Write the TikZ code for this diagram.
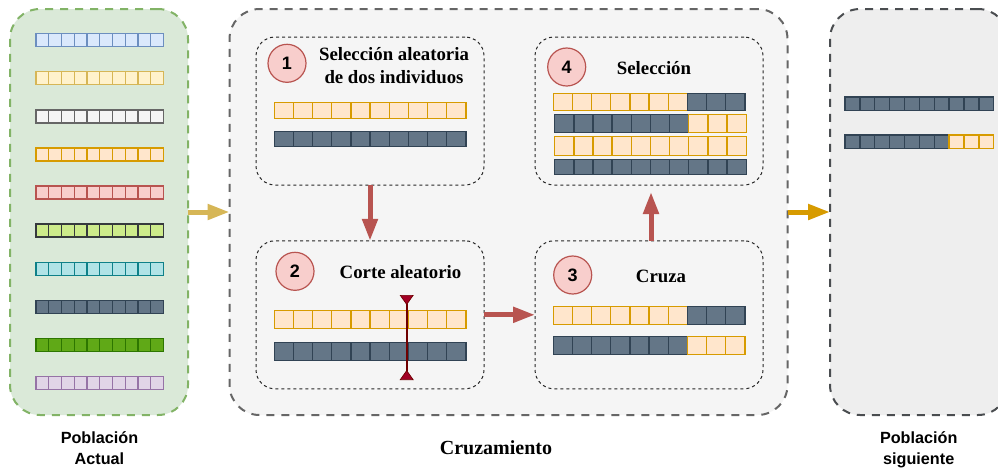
\documentclass[tikz,border=0pt]{standalone}
\usepackage{fontspec}
\setmainfont{Liberation Serif}
\setsansfont{Liberation Sans}
\usetikzlibrary{arrows.meta,calc}
\definecolor{bluef}{HTML}{DAE8FC}\definecolor{blued}{HTML}{6C8EBF}
\definecolor{yelf}{HTML}{FFF2CC}\definecolor{yeld}{HTML}{D6B656}
\definecolor{grayf}{HTML}{F5F5F5}\definecolor{grayd}{HTML}{666666}
\definecolor{orf}{HTML}{FFE6CC}\definecolor{ord}{HTML}{D79B00}
\definecolor{redf}{HTML}{F8CECC}\definecolor{redd}{HTML}{B85450}
\definecolor{limef}{HTML}{CDEB8B}\definecolor{darkd}{HTML}{36393D}
\definecolor{tealf}{HTML}{B0E3E6}\definecolor{teald}{HTML}{0E8088}
\definecolor{slatef}{HTML}{647687}\definecolor{slated}{HTML}{314354}
\definecolor{grnf}{HTML}{60A917}\definecolor{grnd}{HTML}{2D7600}
\definecolor{purf}{HTML}{E1D5E7}\definecolor{purd}{HTML}{9673A6}
\definecolor{panelg}{HTML}{DAE9D8}\definecolor{panelgd}{HTML}{82B366}
\definecolor{nextf}{HTML}{EEEEEE}
\definecolor{cutf}{HTML}{A20025}\definecolor{cutd}{HTML}{6F0000}
\tikzset{
  panelbox/.style={draw,line width=2pt,rounded corners=30pt,dash pattern=on 8pt off 7pt,inner sep=0pt,outer sep=0pt},
  subbox/.style={draw=black!85,fill=grayf,line width=1pt,rounded corners=19pt,dash pattern=on 3pt off 3pt,minimum width=228pt,minimum height=148pt,inner sep=0pt,outer sep=0pt},
  badge/.style={circle,draw=redd,fill=redf,line width=1.2pt,minimum size=38pt,inner sep=0pt,font=\sffamily\bfseries\fontsize{18}{18}\selectfont},
  steptitle/.style={align=center,inner sep=0pt,font=\rmfamily\bfseries\fontsize{18.8}{23}\selectfont},
  captionlabel/.style={align=center,inner sep=0pt,font=\sffamily\bfseries\fontsize{16.2}{21}\selectfont},
  flowarrow/.style={line width=5pt,draw=#1,-{Triangle[length=22pt,width=15pt,fill=#1]}},
  barblue/.style={draw=blued,fill=bluef,line width=1.4pt},
  baryellow/.style={draw=yeld,fill=yelf,line width=1.4pt},
  bargray/.style={draw=grayd,fill=grayf,line width=1.4pt},
  barorange/.style={draw=ord,fill=orf,line width=1.4pt},
  barred/.style={draw=redd,fill=redf,line width=1.4pt},
  barlime/.style={draw=darkd,fill=limef,line width=1.4pt},
  barteal/.style={draw=teald,fill=tealf,line width=1.4pt},
  barslate/.style={draw=slated,fill=slatef,line width=1.4pt},
  bargreen/.style={draw=grnd,fill=grnf,line width=1.4pt},
  barpurple/.style={draw=purd,fill=purf,line width=1.4pt},
}
% x y cellwidth height from to style
\newcommand{\cellrow}[7]{\foreach \i in {#5,...,#6}{\draw[#7] ({#1+\i*#3},#2) rectangle +(#3,#4);}}
\begin{document}
\begin{tikzpicture}[x=1pt,y=-1pt]
\clip (0,0) rectangle (998,469);
\fill[white] (0,0) rectangle (998,469);
% panels
\node[panelbox,draw=panelgd,fill=panelg,minimum width=178pt,minimum height=406pt] (pa) at (99,212) {};
\node[panelbox,draw=grayd,fill=grayf,minimum width=558pt,minimum height=406pt] (pb) at (508.5,212) {};
\node[panelbox,draw=darkd!90,fill=nextf,minimum width=178pt,minimum height=406pt] (pc) at (919,212) {};
% population bars
\def\cw{12.75}
\cellrow{36}{33.5}{\cw}{13}{0}{9}{barblue}
\cellrow{36}{71.7}{\cw}{13}{0}{9}{baryellow}
\cellrow{36}{110}{\cw}{13}{0}{9}{bargray}
\cellrow{36}{148}{\cw}{13}{0}{9}{barorange}
\cellrow{36}{186}{\cw}{13}{0}{9}{barred}
\cellrow{36}{224}{\cw}{13}{0}{9}{barlime}
\cellrow{36}{262.3}{\cw}{13}{0}{9}{barteal}
\cellrow{36}{300.3}{\cw}{13}{0}{9}{barslate}
\cellrow{36}{338.5}{\cw}{13}{0}{9}{bargreen}
\cellrow{36}{376.5}{\cw}{13}{0}{9}{barpurple}
% sub boxes
\node[subbox] (b1) at (370,111) {};
\node[subbox] (b2) at (370,314.8) {};
\node[subbox] (b3) at (649,314.8) {};
\node[subbox] (b4) at (649,111) {};
\node[badge] (c1) at (287,63.3) {1};
\node[badge] (c2) at (295,271.3) {2};
\node[badge] (c3) at (572.7,275) {3};
\node[badge] (c4) at (566.7,67) {4};
\node[steptitle] (t1) at (394,65.5) {Selección aleatoria\\de dos individuos};
\node[steptitle] (t2) at (400.5,272) {Corte aleatorio};
\node[steptitle] (t3) at (661,276) {Cruza};
\node[steptitle] (t4) at (654,68) {Selección};
% step bars
\def\cx{19.15}
\cellrow{274.3}{102.7}{\cx}{15.6}{0}{9}{barorange}
\cellrow{274.3}{131.3}{\cx}{15.4}{0}{9}{barslate}
\cellrow{274.3}{310.7}{\cx}{18}{0}{9}{barorange}
\cellrow{274.3}{342.3}{\cx}{18}{0}{9}{barslate}
\cellrow{553.3}{306.3}{\cx}{18}{0}{6}{barorange}
\cellrow{553.3}{306.3}{\cx}{18}{7}{9}{barslate}
\cellrow{553.3}{336.7}{\cx}{18}{0}{6}{barslate}
\cellrow{553.3}{336.7}{\cx}{18}{7}{9}{barorange}
\cellrow{553.3}{93.3}{\cx}{17.4}{0}{6}{barorange}
\cellrow{553.3}{93.3}{\cx}{17.4}{7}{9}{barslate}
\cellrow{554.7}{114.7}{\cx}{18}{0}{6}{barslate}
\cellrow{554.7}{114.7}{\cx}{18}{7}{9}{barorange}
\cellrow{554.7}{136.7}{\cx}{18.6}{0}{9}{barorange}
\cellrow{554.7}{159.3}{\cx}{15.4}{0}{9}{barslate}
% next population bars
\def\cn{14.87}
\cellrow{845}{97}{\cn}{13.3}{0}{9}{barslate}
\cellrow{845}{135}{\cn}{13.3}{0}{6}{barslate}
\cellrow{845}{135}{\cn}{13.3}{7}{9}{barorange}
% connectors
\draw[flowarrow=yeld] (pa.east) -- (pb.west);
\draw[flowarrow=ord] (pb.east) -- (pc.west);
\draw[flowarrow=redd] (b1.south) -- (b2.north);
\draw[flowarrow=redd] (b2.east) -- (b3.west);
\coordinate (b4in) at ($(b4.south)+(2,7)$);
\draw[flowarrow=redd] ($(b3.north)+(2,0)$) -- (b4in);
% cut
\coordinate (cuttop) at (406.7,295);
\coordinate (cutbot) at (406.7,380);
\draw[line width=2pt,draw=cutd,{Triangle[reversed,length=10pt,width=14pt,fill=cutf,line width=0.7pt]}-{Triangle[reversed,length=10pt,width=14pt,fill=cutf,line width=0.7pt]}] (cuttop) -- (cutbot);
% captions
\node[captionlabel] (l1) at (99.5,448.5) {Población\\Actual};
\node[captionlabel] (l2) at (918.7,449.5) {Población\\siguiente};
\node[steptitle,font=\rmfamily\bfseries\fontsize{20}{20}\selectfont] (l3) at (496,448) {Cruzamiento};
\end{tikzpicture}
\end{document}
